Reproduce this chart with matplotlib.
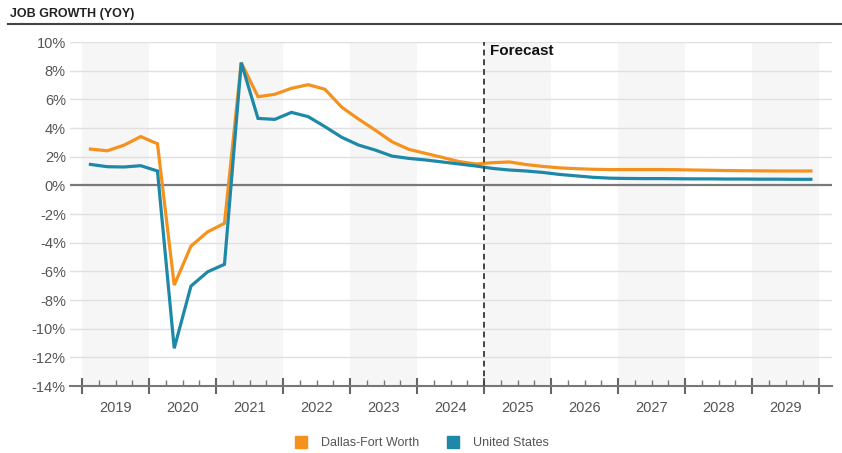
import matplotlib
matplotlib.use("Agg")
import matplotlib.pyplot as plt
from matplotlib.lines import Line2D
import numpy as np

plt.rcParams['font.family'] = ['Liberation Sans', 'DejaVu Sans']

# quarterly year-over-year job growth (%), 2019 Q1 .. 2029 Q4
years = list(range(2019, 2030))
dfw = [2.53, 2.41, 2.80, 3.40,
       2.90, -6.96, -4.24, -3.24,
       -2.65, 8.56, 6.18, 6.35,
       6.77, 7.02, 6.70, 5.45,
       4.62, 3.85, 3.04, 2.51,
       2.23, 1.95, 1.66, 1.49,
       1.58, 1.63, 1.45, 1.32,
       1.22, 1.16, 1.12, 1.10,
       1.10, 1.10, 1.10, 1.09,
       1.07, 1.05, 1.03, 1.02,
       1.01, 1.00, 1.00, 1.00]
us = [1.46, 1.30, 1.28, 1.37,
      1.00, -11.37, -7.03, -6.03,
      -5.51, 8.56, 4.67, 4.60,
      5.09, 4.79, 4.09, 3.35,
      2.81, 2.46, 2.04, 1.88,
      1.77, 1.63, 1.49, 1.35,
      1.18, 1.07, 1.00, 0.90,
      0.76, 0.66, 0.56, 0.50,
      0.48, 0.47, 0.47, 0.46,
      0.45, 0.45, 0.44, 0.44,
      0.43, 0.43, 0.42, 0.42]
forecast_start = 2025

orange = '#F5921E'
teal = '#1E88A8'

x = np.array([y + (q + 0.5) / 4 for y in years for q in range(4)])

fig = plt.figure(figsize=(8.42, 4.53), dpi=100)
ax = fig.add_axes([70 / 842, 67 / 453, 762 / 842, 344 / 453])

# alternate year shading
for i, y in enumerate(years):
    if i % 2 == 0:
        ax.axvspan(y, y + 1, color='#f6f6f6', lw=0, zorder=0)

for v in range(-12, 11, 2):
    if v == 0:
        continue
    ax.axhline(v, color='#e0e0e0', lw=1.0, zorder=1)
ax.axhline(0, color='#7a7a7a', lw=1.6, zorder=2)

ax.plot(x, dfw, color=orange, lw=2.3, zorder=4, solid_joinstyle='miter')
ax.plot(x, us, color=teal, lw=2.3, zorder=5, solid_joinstyle='miter')

ax.axvline(forecast_start, color='#444444', lw=1.4, ls=(0, (3, 2)), zorder=6)
ax.text(forecast_start + 0.09, 9.35, 'Forecast', fontsize=11, fontweight='bold',
        color='#111111', va='center', ha='left')

ax.set_xlim(2018.82, 2030.19)
ax.set_ylim(-14, 10)

ax.set_yticks(range(-14, 11, 2))
ax.set_yticklabels([f'{v}%' for v in range(-14, 11, 2)])
ax.tick_params(axis='y', length=0, pad=3, labelsize=10.5, labelcolor='#555555')

ax.set_xticks(range(2019, 2031))
ax.set_xticklabels([])
ax.set_xticks([y + q / 4 for y in years for q in (1, 2, 3)], minor=True)
ax.tick_params(axis='x', which='major', direction='inout', length=12, width=1.5,
               color='#666666')
ax.tick_params(axis='x', which='minor', direction='in', length=4, width=1.0,
               color='#777777')
for y in years:
    ax.text(y + 0.5, -0.065, str(y), transform=ax.get_xaxis_transform(),
            ha='center', va='center', fontsize=10.5, color='#555555')

for side in ('left', 'right', 'top'):
    ax.spines[side].set_visible(False)
ax.spines['bottom'].set_color('#777777')
ax.spines['bottom'].set_linewidth(1.5)

# header
fig.text(10 / 842, 1 - 14 / 453, 'JOB GROWTH (YOY)', fontsize=9, fontweight='bold',
         color='#222222', va='center', ha='left')
fig.add_artist(Line2D([8 / 842, 1], [1 - 24 / 453, 1 - 24 / 453],
                      transform=fig.transFigure, color='#444444', lw=1.5))

handles = [Line2D([], [], ls='none', marker='s', ms=8, color=orange),
           Line2D([], [], ls='none', marker='s', ms=8, color=teal)]
fig.legend(handles, ['Dallas-Fort Worth', 'United States'], loc='center',
           bbox_to_anchor=(0.497, 1 - 443 / 453), ncol=2, frameon=False,
           fontsize=9, labelcolor='#555555', handletextpad=0.6, columnspacing=1.7)

fig.savefig('out.png', dpi=100)
